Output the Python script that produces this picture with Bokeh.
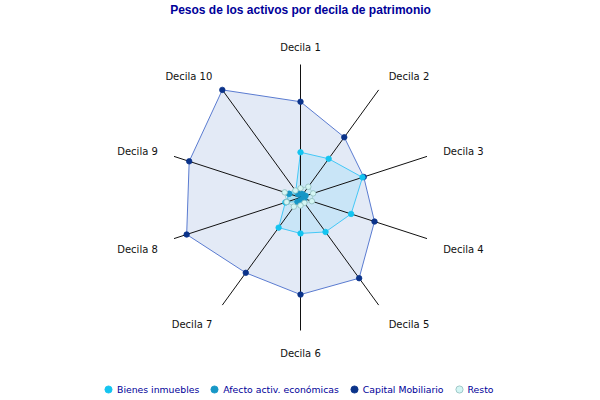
import numpy as np
from bokeh.plotting import figure
from bokeh.models import Range1d, ColumnDataSource, Legend, LegendItem, Label
from bokeh.core.properties import value
from bokeh.embed import file_html
from bokeh.resources import INLINE

# ---------------- data ----------------
deciles = ["Decila 1", "Decila 2", "Decila 3", "Decila 4", "Decila 5",
           "Decila 6", "Decila 7", "Decila 8", "Decila 9", "Decila 10"]
bienes_inmuebles = [0.34, 0.36, 0.49, 0.40, 0.32, 0.27, 0.28, 0.12, 0.09, 0.06]
afecto_activ = [0.03, 0.03, 0.04, 0.03, 0.02, 0.02, 0.04, 0.11, 0.09, 0.03]
capital_mobiliario = [0.72, 0.56, 0.50, 0.585, 0.75, 0.73, 0.70, 0.90, 0.88, 1.00]
resto = [0.07, 0.10, 0.10, 0.09, 0.05, 0.06, 0.085, 0.11, 0.125, 0.065]
series_names = ["Bienes inmuebles", "Afecto activ. económicas", "Capital Mobiliario", "Resto"]
title_text = "Pesos de los activos por decila de patrimonio"

# ---------------- geometry ----------------
R_MAX = 1.0
PX = 133.0  # pixels per radius unit
n = len(deciles)
theta = np.arange(n) * 2 * np.pi / n


def to_xy(vals):
    r = np.asarray(vals, dtype=float) / R_MAX
    return list(r * np.sin(theta)), list(r * np.cos(theta))


p = figure(width=600, height=400,
           x_range=Range1d(-300 / PX, 300 / PX),
           y_range=Range1d(-203 / PX, 197 / PX),
           output_backend="svg", toolbar_location=None,
           x_axis_type=None, y_axis_type=None, min_border=0,
           outline_line_color=None)
p.grid.visible = False
p.background_fill_color = "white"
p.border_fill_color = "white"

styles = {
    "Capital Mobiliario": dict(vals=capital_mobiliario, fill="#6688cc", falpha=0.18,
                               line="#5a7bd0", mk="#0b338a", mkline="#0b338a"),
    "Bienes inmuebles": dict(vals=bienes_inmuebles, fill="#33ccff", falpha=0.15,
                             line="#44c8f6", mk="#14c4f0", mkline="#14c4f0"),
    "Afecto activ. económicas": dict(vals=afecto_activ, fill="#1199cc", falpha=0.25,
                                     line="#1a9bc8", mk="#1797c6", mkline="#1797c6"),
    "Resto": dict(vals=resto, fill="#ccf5f5", falpha=0.4,
                  line="#a8d4d4", mk="#d4f6f4", mkline="#8fbdbd"),
}
order = ["Capital Mobiliario", "Bienes inmuebles", "Afecto activ. económicas", "Resto"]

for name in order:
    s = styles[name]
    xs, ys = to_xy(s["vals"])
    p.patch(xs, ys, fill_color=s["fill"], fill_alpha=s["falpha"],
            line_color=s["line"], line_width=1)

# spokes
sx = list(np.sin(theta))
sy = list(np.cos(theta))
p.segment(x0=[0] * n, y0=[0] * n, x1=sx, y1=sy, line_color="#111111", line_width=1)

# markers
marker_r = {}
for name in order:
    s = styles[name]
    xs, ys = to_xy(s["vals"])
    marker_r[name] = p.scatter(xs, ys, marker="circle", size=5.5,
                               fill_color=s["mk"], line_color=s["mkline"], line_width=0.8)

# category labels
lab_r = 150 / PX
aligns, baselines = [], []
for i in range(n):
    if i == 0:
        aligns.append("center"); baselines.append("middle")
    elif i == 5:
        aligns.append("center"); baselines.append("top")
    elif i < 5:
        aligns.append("left"); baselines.append("middle" if i < 3 else "top")
    else:
        aligns.append("right"); baselines.append("top" if i < 8 else "middle")
lab_src = ColumnDataSource(dict(x=list(lab_r * np.sin(theta)), y=list(lab_r * np.cos(theta)),
                                text=deciles, align=aligns, base=baselines))
p.text(x="x", y="y", text="text", source=lab_src, text_align="align", text_baseline="base",
       text_font=value("DejaVu Sans"), text_font_size=value("10px"), text_color="#111111")

# title
p.add_layout(Label(x=0, y=195 / PX, text=title_text, text_align="center", text_baseline="top",
                   text_font="Liberation Sans", text_font_style="bold", text_font_size="12px",
                   text_color="#000099"))

# legend
items = [LegendItem(label=nm, renderers=[marker_r[nm]]) for nm in series_names]
legend = Legend(items=items, orientation="horizontal", location=(99, 2),
                glyph_width=18, glyph_height=18, label_standoff=0, spacing=6,
                padding=0, margin=0, border_line_color=None, background_fill_alpha=0,
                label_text_font="DejaVu Sans", label_text_font_size="9.3px",
                label_text_color="#000099", label_height=18)
p.add_layout(legend, "center")

open("out.html", "w").write(file_html(p, INLINE))
